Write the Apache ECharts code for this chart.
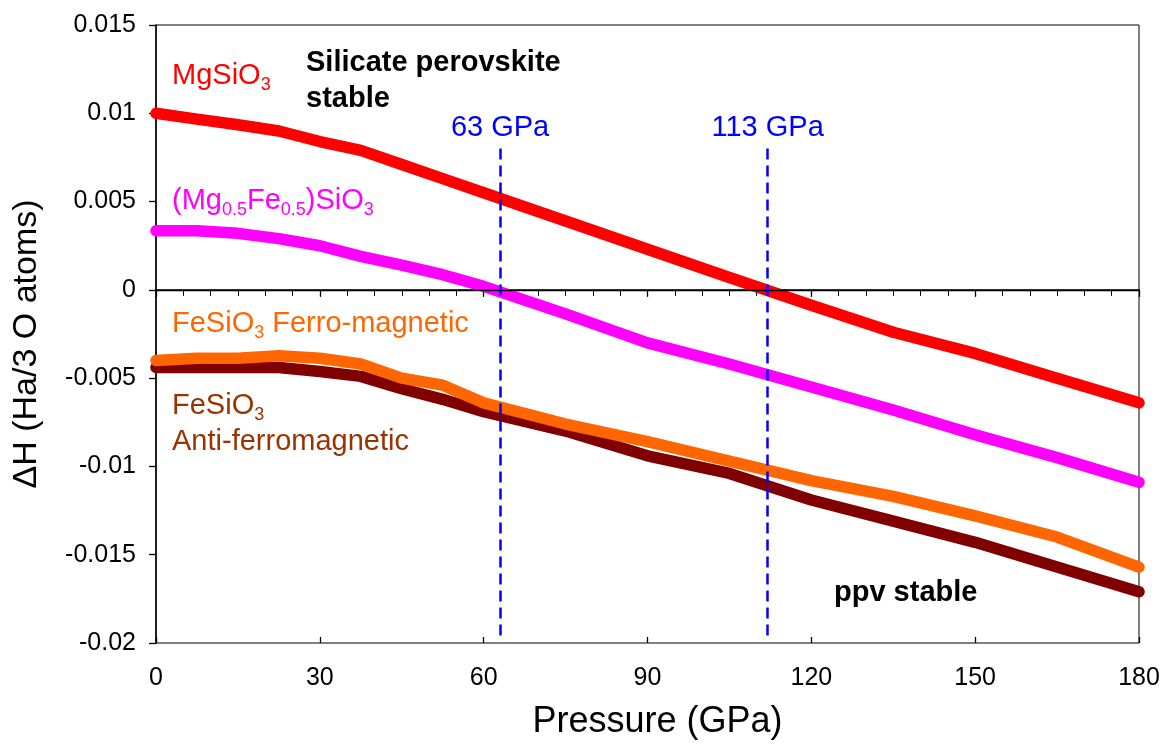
<!DOCTYPE html>
<html>
<head>
<meta charset="utf-8">
<script src="https://cdn.jsdelivr.net/npm/echarts@6/dist/echarts.min.js"></script>
<style>html,body{margin:0;padding:0;background:#fff;}#c{width:1165px;height:748px;}</style>
</head>
<body>
<div id="c"></div>
<script>
// Pressure (GPa)
const pressure = [0, 7.5, 15, 22.5, 30, 37.5, 45, 52.5, 60, 75, 90, 105, 120, 135, 150, 165, 180];
// ΔH (Ha / 3 O atoms)
const mgSiO3      = [0.0100, 0.00967, 0.00935, 0.0090, 0.0084, 0.0079, 0.0071, 0.0063, 0.0055, 0.0039, 0.0023, 0.0007, -0.00087, -0.0024, -0.0036, -0.0050, -0.0064];
const mgFeSiO3    = [0.00335, 0.00335, 0.0032, 0.0029, 0.0025, 0.0019, 0.0014, 0.00086, 0.0002, -0.00136, -0.0030, -0.0042, -0.0055, -0.0068, -0.0082, -0.0095, -0.0109];
const feFerro     = [-0.0040, -0.00387, -0.00387, -0.00373, -0.00387, -0.0042, -0.0050, -0.0054, -0.0064, -0.0076, -0.0086, -0.0097, -0.0108, -0.0117, -0.0128, -0.0140, -0.0157];
const feAntiFerro = [-0.0044, -0.0044, -0.0044, -0.0044, -0.00462, -0.0049, -0.0056, -0.0062, -0.0069, -0.0080, -0.0094, -0.0104, -0.0119, -0.0131, -0.0143, -0.0157, -0.0171];
// transition pressures (position, label)
const transitions = [63, 112];
const transitionLabels = ['63 GPa', '113 GPa'];
const dashTop = 0.0080, dashBottom = -0.01975;
const xTicks = {min: 0, max: 180, interval: 30};
const yTicks = {min: -0.02, max: 0.015, interval: 0.005};

const FONT = '"Liberation Sans", Arial, sans-serif';
const pairs = arr => pressure.map((p, i) => [p, arr[i]]);

function lineSeries(name, data, color, z) {
  return {
    name, type: 'line', data: pairs(data), z,
    symbol: 'none', smooth: false,
    lineStyle: {color, width: 11.5, cap: 'round', join: 'round'},
    itemStyle: {color}
  };
}

const chart = echarts.init(document.getElementById('c'), null, {renderer: 'canvas'});

const sAnti = lineSeries('FeSiO3 Anti-ferromagnetic', feAntiFerro, '#800000', 1);
sAnti.markLine = {
  silent: true, symbol: 'none', animation: false,
  lineStyle: {color: '#000', width: 1.3, type: 'solid'},
  label: {show: false},
  data: [{yAxis: 0}]
};
const sFerro = lineSeries('FeSiO3 Ferro-magnetic', feFerro, '#ff6600', 2);
const sMgFe = lineSeries('(Mg0.5Fe0.5)SiO3', mgFeSiO3, '#ff00ff', 3);
const sMg = lineSeries('MgSiO3', mgSiO3, '#ff0000', 4);
sMg.markLine = {
  silent: true, symbol: 'none', animation: false,
  lineStyle: {color: '#0000ff', width: 2.5, type: [11, 6]},
  label: {show: true, position: 'start', distance: 6, color: '#0000ff', fontSize: 29, fontFamily: FONT},
  data: transitions.map((t, i) => [
    {coord: [t, dashTop], label: {formatter: transitionLabels[i]}},
    {coord: [t, dashBottom]}
  ])
};

function txt(x, y, text, rich) {
  return {type: 'text', x, y, z: 100, style: {text, rich, textVerticalAlign: 'top'}};
}
function richSet(color, bold) {
  return {
    n: {fontSize: 29, fontFamily: FONT, fill: color, lineHeight: 36, verticalAlign: 'middle', fontWeight: bold ? 'bold' : 'normal'},
    s: {fontSize: 18, fontFamily: FONT, fill: color, lineHeight: 18, verticalAlign: 'bottom'}
  };
}

chart.setOption({
  animation: false,
  backgroundColor: '#fff',
  grid: {left: 156, right: 26, top: 25, bottom: 105, show: true, borderColor: '#000', borderWidth: 1, backgroundColor: 'transparent'},
  xAxis: [{
    type: 'value', min: xTicks.min, max: xTicks.max, interval: xTicks.interval,
    name: 'Pressure (GPa)', nameLocation: 'middle', nameGap: 61,
    nameTextStyle: {fontSize: 36, fontFamily: FONT, color: '#000', padding: [0, 0, 0, 20]},
    axisLine: {show: true, lineStyle: {color: '#000', width: 1.5}},
    axisTick: {show: true, length: 7, lineStyle: {color: '#000', width: 1.3}},
    minorTick: {show: true, splitNumber: 6, length: 6, lineStyle: {color: '#000', width: 1}},
    axisLabel: {fontSize: 25, fontFamily: FONT, color: '#000', margin: 23},
    splitLine: {show: false}
  }, {
    type: 'value', min: xTicks.min, max: xTicks.max, interval: xTicks.interval, position: 'bottom',
    axisLine: {show: false},
    axisTick: {show: true, inside: true, length: 6, lineStyle: {color: '#000', width: 1.3}},
    axisLabel: {show: false}, splitLine: {show: false}
  }],
  yAxis: {
    type: 'value', min: yTicks.min, max: yTicks.max, interval: yTicks.interval,
    name: 'ΔH (Ha/3 O atoms)', nameLocation: 'middle', nameGap: 112, nameRotate: 90,
    nameTextStyle: {fontSize: 34, fontFamily: FONT, color: '#000', padding: [0, 20, 0, 0]},
    axisLine: {show: true, lineStyle: {color: '#000', width: 1.5}},
    axisTick: {show: true, length: 7, lineStyle: {color: '#000', width: 1.3}},
    axisLabel: {fontSize: 25, fontFamily: FONT, color: '#000', margin: 20},
    splitLine: {show: false}
  },
  series: [sAnti, sFerro, sMgFe, sMg],
  graphic: [
    txt(172, 58, '{n|MgSiO}{s|3}', richSet('#ff0000')),
    txt(306, 45, '{n|Silicate perovskite}\n{n|stable}', richSet('#000', true)),
    txt(172, 183, '{n|(Mg}{s|0.5}{n|Fe}{s|0.5}{n|)SiO}{s|3}', richSet('#ff00ff')),
    txt(172, 306, '{n|FeSiO}{s|3}{n| Ferro-magnetic}', richSet('#ff6600')),
    txt(172, 388, '{n|FeSiO}{s|3}\n{n|Anti-ferromagnetic}', richSet('#993300')),
    txt(834, 575, '{n|ppv stable}', richSet('#000', true))
  ]
});
</script>
</body>
</html>
